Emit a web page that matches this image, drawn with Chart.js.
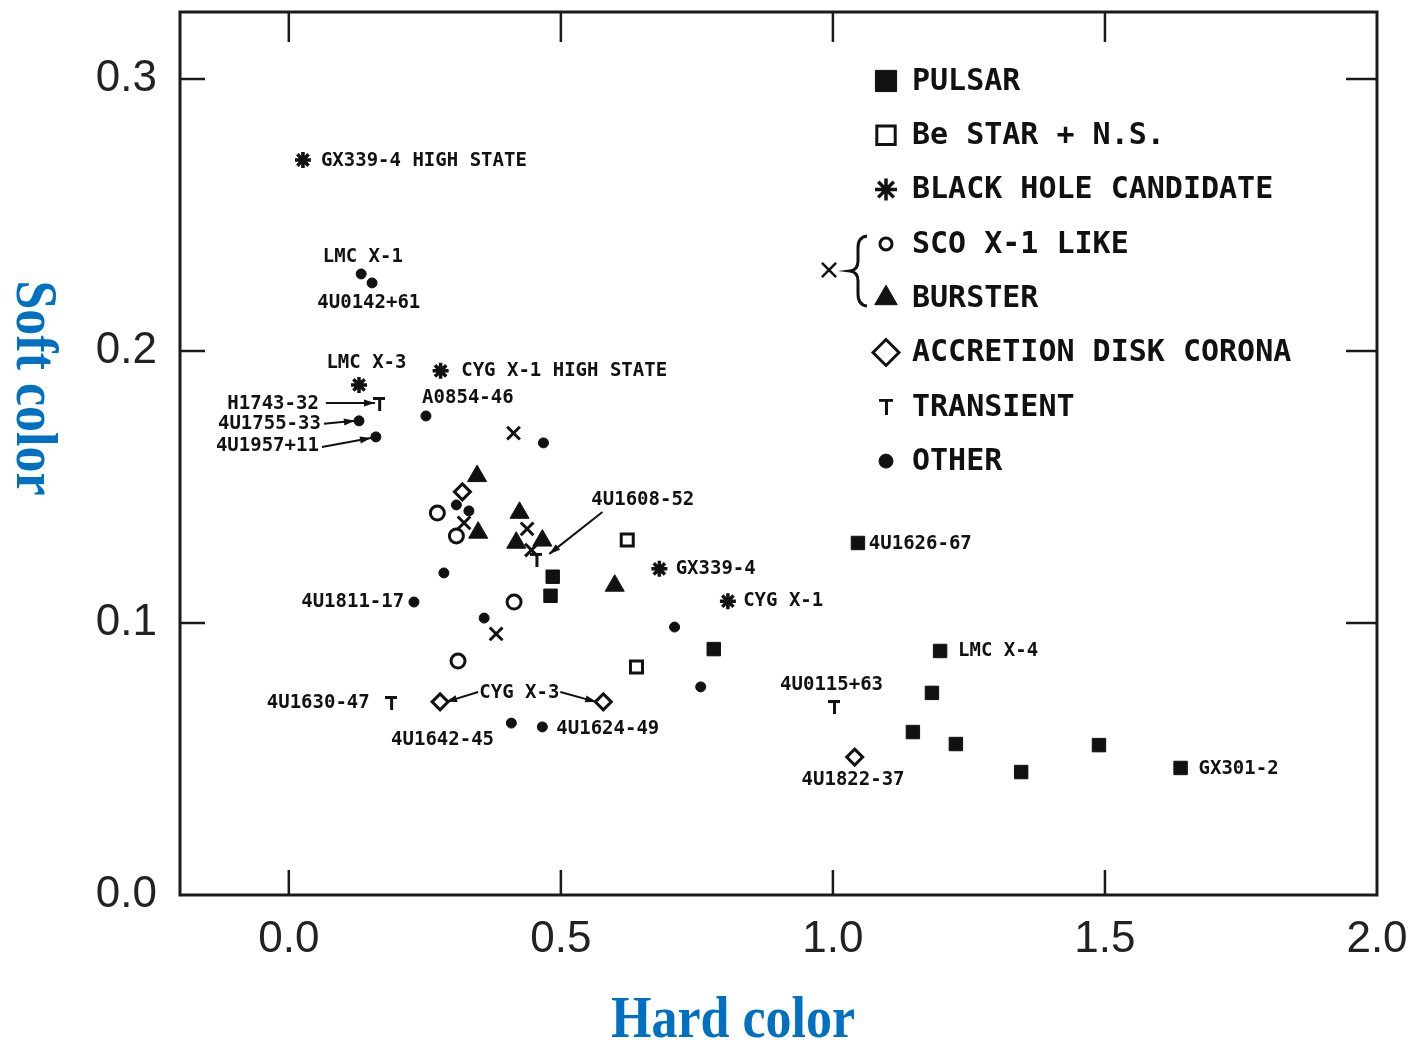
<!DOCTYPE html>
<html><head><meta charset="utf-8">
<script src="https://cdn.jsdelivr.net/npm/chart.js@4.4.1/dist/chart.umd.min.js"></script>
<style>html,body{margin:0;padding:0;background:#fff;}#wrap{width:1416px;height:1040px;}</style>
</head><body><div id="wrap"><canvas id="c" width="1416" height="1040"></canvas></div>
<script>
// ---------- data ----------
const pulsarX = [0.485, 0.481, 0.781, 1.197, 1.182, 1.147, 1.226, 1.346, 1.489, 1.639, 1.046];
const pulsarY = [0.1170, 0.1100, 0.0904, 0.0897, 0.0743, 0.0599, 0.0555, 0.0452, 0.0551, 0.0467, 0.1294];
const beStarX = [0.622, 0.639];
const beStarY = [0.1305, 0.0838];
const blackHoleX = [0.026, 0.129, 0.279, 0.681, 0.807];
const blackHoleY = [0.2702, 0.1875, 0.1927, 0.1199, 0.1080];
const scoLikeX = [0.273, 0.308, 0.414, 0.311];
const scoLikeY = [0.1404, 0.1320, 0.1077, 0.0860];
const bursterX = [0.346, 0.348, 0.424, 0.418, 0.466, 0.599];
const bursterY = [0.1540, 0.1332, 0.1405, 0.1295, 0.1303, 0.1137];
const adcX = [0.319, 0.278, 0.578, 1.040];
const adcY = [0.1482, 0.0710, 0.0710, 0.0507];
const transientX = [0.166, 0.188, 1.002, 0.455];
const transientY = [0.1805, 0.0706, 0.0691, 0.1232];
const otherX = [0.133, 0.153, 0.129, 0.160, 0.252, 0.468, 0.308, 0.331, 0.285, 0.230, 0.359, 0.709, 0.757, 0.409, 0.466];
const otherY = [0.2283, 0.2250, 0.1743, 0.1684, 0.1761, 0.1662, 0.1434, 0.1412, 0.1184, 0.1077, 0.1018, 0.0985, 0.0765, 0.0632, 0.0618];
const uncertainX = [0.413, 0.381, 0.322, 0.438, 0.446];
const uncertainY = [0.1698, 0.0960, 0.1368, 0.1346, 0.1268];

const seriesNames = ['PULSAR', 'Be STAR + N.S.', 'BLACK HOLE CANDIDATE', 'SCO X-1 LIKE', 'BURSTER', 'ACCRETION DISK CORONA', 'TRANSIENT', 'OTHER', 'SCO X-1 LIKE or BURSTER'];

const xTickValues = [0, 0.5, 1.0, 1.5, 2.0];
const xTickLabels = ['0.0', '0.5', '1.0', '1.5', '2.0'];
const yTickValues = [0, 0.1, 0.2, 0.3];
const yTickLabels = ['0.0', '0.1', '0.2', '0.3'];
const xTitle = 'Hard color';
const yTitle = 'Soft color';

// source name annotations (in data coordinates)
const annotations = [
 {text:'GX339-4 HIGH STATE', x:0.059, y:0.2699, align:'left'},
 {text:'LMC X-1', x:0.136, y:0.2346, align:'center'},
 {text:'4U0142+61', x:0.147, y:0.2176, align:'center'},
 {text:'LMC X-3', x:0.1427, y:0.1956, align:'center'},
 {text:'CYG X-1 HIGH STATE', x:0.3168, y:0.1926, align:'left'},
 {text:'A0854-46', x:0.245, y:0.1827, align:'left'},
 {text:'H1743-32', x:0.0552, y:0.1805, align:'right'},
 {text:'4U1755-33', x:0.059, y:0.1732, align:'right'},
 {text:'4U1957+11', x:0.0552, y:0.1651, align:'right'},
 {text:'4U1608-52', x:0.556, y:0.1452, align:'left'},
 {text:'4U1626-67', x:1.066, y:0.1290, align:'left'},
 {text:'GX339-4', x:0.711, y:0.1199, align:'left'},
 {text:'CYG X-1', x:0.835, y:0.1081, align:'left'},
 {text:'4U1811-17', x:0.212, y:0.1077, align:'right'},
 {text:'LMC X-4', x:1.230, y:0.0897, align:'left'},
 {text:'4U0115+63', x:0.9975, y:0.0772, align:'center'},
 {text:'4U1630-47', x:-0.0405, y:0.0706, align:'left'},
 {text:'CYG X-3', x:0.4236, y:0.0743, align:'center'},
 {text:'4U1642-45', x:0.188, y:0.0570, align:'left'},
 {text:'4U1624-49', x:0.4917, y:0.0610, align:'left'},
 {text:'4U1822-37', x:1.037, y:0.0423, align:'center'},
 {text:'GX301-2', x:1.672, y:0.0463, align:'left'}
];
const leaders = [
 {x1:0.0681, y1:0.1809, x2:0.1584, y2:0.1809},
 {x1:0.0645, y1:0.1732, x2:0.1215, y2:0.1743},
 {x1:0.0608, y1:0.1647, x2:0.1510, y2:0.1680},
 {x1:0.348, y1:0.0746, x2:0.289, y2:0.0710},
 {x1:0.499, y1:0.0746, x2:0.565, y2:0.0710},
 {x1:0.5764, y1:0.1408, x2:0.4788, y2:0.1254}
];

// ---------- styling helpers ----------
const INK = '#111';
function makeT(w, h, lw) {
  const c = document.createElement('canvas');
  c.width = w; c.height = h;
  const g = c.getContext('2d');
  g.fillStyle = INK;
  g.fillRect(0, 0, w, lw);
  g.fillRect(Math.round(w / 2 - lw / 2), 0, lw, h);
  return c;
}
const tSmall = makeT(12, 14, 3);
const tLegend = makeT(14, 16, 3);

function pts(xs, ys) { return xs.map((x, i) => ({x: x, y: ys[i]})); }

const datasets = [
  {label: seriesNames[0], data: pts(pulsarX, pulsarY), pointStyle: 'rect', pointRadius: 9.5, backgroundColor: INK, borderColor: INK, borderWidth: 1},
  {label: seriesNames[1], data: pts(beStarX, beStarY), pointStyle: 'rect', pointRadius: 8.5, backgroundColor: '#fff', borderColor: INK, borderWidth: 3},
  {label: seriesNames[2], data: pts(blackHoleX, blackHoleY), pointStyle: 'star', pointRadius: 8, backgroundColor: INK, borderColor: INK, borderWidth: 3.5},
  {label: seriesNames[3], data: pts(scoLikeX, scoLikeY), pointStyle: 'circle', pointRadius: 7, backgroundColor: '#fff', borderColor: INK, borderWidth: 3},
  {label: seriesNames[4], data: pts(bursterX, bursterY), pointStyle: 'triangle', pointRadius: 11, backgroundColor: INK, borderColor: INK, borderWidth: 1},
  {label: seriesNames[5], data: pts(adcX, adcY), pointStyle: 'rectRot', pointRadius: 8, backgroundColor: '#fff', borderColor: INK, borderWidth: 3},
  {label: seriesNames[6], data: pts(transientX, transientY), pointStyle: tSmall, pointRadius: 7, backgroundColor: INK, borderColor: INK, borderWidth: 1},
  {label: seriesNames[7], data: pts(otherX, otherY), pointStyle: 'circle', pointRadius: 5, backgroundColor: INK, borderColor: INK, borderWidth: 1},
  {label: seriesNames[8], data: pts(uncertainX, uncertainY), pointStyle: 'crossRot', pointRadius: 9, backgroundColor: INK, borderColor: INK, borderWidth: 3}
];
datasets.forEach(d => { d.pointHoverRadius = d.pointRadius; d.showLine = false; });

// legend row -> dataset index, legend marker sizes
const legendRows = [
  {ds: 0, style: 'rect', r: 15, fill: INK, lw: 1},
  {ds: 1, style: 'rect', r: 13, fill: '#fff', lw: 3},
  {ds: 2, style: 'star', r: 11, fill: INK, lw: 3.5},
  {ds: 3, style: 'circle', r: 6, fill: '#fff', lw: 3},
  {ds: 4, style: 'triangle', r: 13, fill: INK, lw: 1},
  {ds: 5, style: 'rectRot', r: 13, fill: '#fff', lw: 3},
  {ds: 6, style: tLegend, r: 8, fill: INK, lw: 1},
  {ds: 7, style: 'circle', r: 7, fill: INK, lw: 1}
];

function marker(ctx, style, x, y, r, fill, lw) {
  ctx.save();
  ctx.fillStyle = fill; ctx.strokeStyle = INK; ctx.lineWidth = lw;
  if (style instanceof HTMLCanvasElement) {
    ctx.drawImage(style, x - style.width / 2, y - style.height / 2);
    ctx.restore(); return;
  }
  ctx.beginPath();
  if (style === 'rect') {
    const s = Math.SQRT1_2 * r;
    ctx.rect(x - s, y - s, 2 * s, 2 * s);
    ctx.fill(); ctx.stroke();
  } else if (style === 'circle') {
    ctx.arc(x, y, r, 0, Math.PI * 2); ctx.fill(); ctx.stroke();
  } else if (style === 'triangle') {
    const a = -Math.PI / 2;
    for (let k = 0; k < 3; k++) {
      const ang = a + k * 2 * Math.PI / 3;
      const px = x + Math.cos(ang) * r, py = y + Math.sin(ang) * r;
      if (k === 0) ctx.moveTo(px, py); else ctx.lineTo(px, py);
    }
    ctx.closePath(); ctx.fill(); ctx.stroke();
  } else if (style === 'rectRot') {
    ctx.moveTo(x - r, y); ctx.lineTo(x, y - r); ctx.lineTo(x + r, y); ctx.lineTo(x, y + r);
    ctx.closePath(); ctx.fill(); ctx.stroke();
  } else if (style === 'star') {
    for (let k = 0; k < 4; k++) {
      const ang = k * Math.PI / 4;
      ctx.moveTo(x - Math.cos(ang) * r, y - Math.sin(ang) * r);
      ctx.lineTo(x + Math.cos(ang) * r, y + Math.sin(ang) * r);
    }
    ctx.stroke();
  } else if (style === 'crossRot') {
    const s = r * Math.SQRT1_2;
    ctx.moveTo(x - s, y - s); ctx.lineTo(x + s, y + s);
    ctx.moveTo(x + s, y - s); ctx.lineTo(x - s, y + s);
    ctx.stroke();
  }
  ctx.restore();
}

const decorPlugin = {
  id: 'decor',
  beforeDatasetsDraw(chart) {
    const ctx = chart.ctx, xs = chart.scales.x, ys = chart.scales.y;
    ctx.save();
    // leader lines with arrowheads
    ctx.strokeStyle = INK; ctx.fillStyle = INK; ctx.lineWidth = 2;
    leaders.forEach(l => {
      const x1 = xs.getPixelForValue(l.x1), y1 = ys.getPixelForValue(l.y1);
      const x2 = xs.getPixelForValue(l.x2), y2 = ys.getPixelForValue(l.y2);
      ctx.beginPath(); ctx.moveTo(x1, y1); ctx.lineTo(x2, y2); ctx.stroke();
      const ang = Math.atan2(y2 - y1, x2 - x1), L = 11, W = 3.5;
      ctx.beginPath();
      ctx.moveTo(x2, y2);
      ctx.lineTo(x2 - L * Math.cos(ang) + W * Math.sin(ang), y2 - L * Math.sin(ang) - W * Math.cos(ang));
      ctx.lineTo(x2 - L * Math.cos(ang) - W * Math.sin(ang), y2 - L * Math.sin(ang) + W * Math.cos(ang));
      ctx.closePath(); ctx.fill();
    });
    // source labels
    ctx.font = 'bold 19px "DejaVu Sans Mono"';
    ctx.textBaseline = 'middle';
    annotations.forEach(a => {
      ctx.textAlign = a.align;
      ctx.fillText(a.text, xs.getPixelForValue(a.x), ys.getPixelForValue(a.y));
    });
    ctx.restore();
  },
  afterDraw(chart) {
    const ctx = chart.ctx, ca = chart.chartArea, xs = chart.scales.x, ys = chart.scales.y;
    ctx.save();
    // frame
    ctx.strokeStyle = '#1a1a1a'; ctx.lineWidth = 3;
    ctx.strokeRect(ca.left, ca.top, ca.right - ca.left, ca.bottom - ca.top);
    // inward ticks
    ctx.lineWidth = 2.5;
    ctx.beginPath();
    xTickValues.forEach(v => {
      const px = xs.getPixelForValue(v);
      if (px <= ca.left + 2 || px >= ca.right - 2) return;
      ctx.moveTo(px, ca.bottom); ctx.lineTo(px, ca.bottom - 25);
      ctx.moveTo(px, ca.top); ctx.lineTo(px, ca.top + 30);
    });
    yTickValues.forEach(v => {
      const py = ys.getPixelForValue(v);
      if (py >= ca.bottom - 2 || py <= ca.top + 2) return;
      ctx.moveTo(ca.left, py); ctx.lineTo(ca.left + 25, py);
      ctx.moveTo(ca.right, py); ctx.lineTo(ca.right - 31, py);
    });
    ctx.stroke();

    // legend
    const lx = 886, ly0 = 81, step = 54.3;
    ctx.font = 'bold 30px "DejaVu Sans Mono"';
    ctx.fillStyle = INK; ctx.textAlign = 'left'; ctx.textBaseline = 'middle';
    legendRows.forEach((row, i) => {
      const y = ly0 + i * step;
      marker(ctx, row.style, lx, y, row.r, row.fill, row.lw);
      ctx.fillStyle = INK;
      ctx.fillText(chart.data.datasets[row.ds].label, 912, y + 1);
    });
    // uncertain marker with brace
    marker(ctx, 'crossRot', 829, 270, 10, INK, 2.5);
    ctx.strokeStyle = INK; ctx.lineWidth = 3;
    ctx.beginPath();
    ctx.moveTo(867, 236);
    ctx.quadraticCurveTo(858, 237, 858, 248);
    ctx.lineTo(858, 261);
    ctx.quadraticCurveTo(858, 270, 850, 271);
    ctx.quadraticCurveTo(858, 272, 858, 281);
    ctx.lineTo(858, 294);
    ctx.quadraticCurveTo(858, 305, 867, 306);
    ctx.stroke();

    // axis titles
    ctx.fillStyle = '#0070C0';
    ctx.font = 'bold 52px "Liberation Serif"';
    ctx.textAlign = 'center'; ctx.textBaseline = 'alphabetic';
    ctx.save();
    ctx.translate(733, 1037); ctx.scale(1, 1.15);
    ctx.fillText(xTitle, 0, 0);
    ctx.restore();
    ctx.save();
    ctx.translate(32, 388); ctx.rotate(Math.PI / 2); ctx.scale(1, 1.15);
    ctx.textBaseline = 'middle';
    ctx.fillText(yTitle, 0, 0);
    ctx.restore();
    ctx.restore();
  }
};

new Chart(document.getElementById('c'), {
  type: 'scatter',
  data: {datasets: datasets},
  options: {
    responsive: false,
    animation: false,
    devicePixelRatio: 1,
    layout: {padding: {top: 12, right: 39, left: 0, bottom: 0}},
    plugins: {legend: {display: false}, tooltip: {enabled: false}},
    scales: {
      x: {
        type: 'linear', min: -0.2, max: 2.0,
        grid: {display: false, drawTicks: false}, border: {display: false},
        afterBuildTicks: s => { s.ticks = xTickValues.map(v => ({value: v})); },
        afterFit: s => { s.height = 145; s.paddingLeft = 0; s.paddingRight = 0; s.paddingTop = 0; s.paddingBottom = 0; },
        ticks: {padding: 18, color: '#222', font: {family: 'Liberation Sans', size: 44},
                maxRotation: 0, autoSkip: false, callback: (v, i) => xTickLabels[i]}
      },
      y: {
        type: 'linear', min: 0, max: 0.3246,
        grid: {display: false, drawTicks: false}, border: {display: false},
        afterBuildTicks: s => { s.ticks = yTickValues.map(v => ({value: v})); },
        afterFit: s => { s.width = 180; s.paddingLeft = 0; s.paddingRight = 0; s.paddingTop = 0; s.paddingBottom = 0; },
        ticks: {padding: 23, color: '#222', font: {family: 'Liberation Sans', size: 44},
                autoSkip: false, callback: (v, i) => yTickLabels[i]}
      }
    }
  },
  plugins: [decorPlugin]
});
</script></body></html>
